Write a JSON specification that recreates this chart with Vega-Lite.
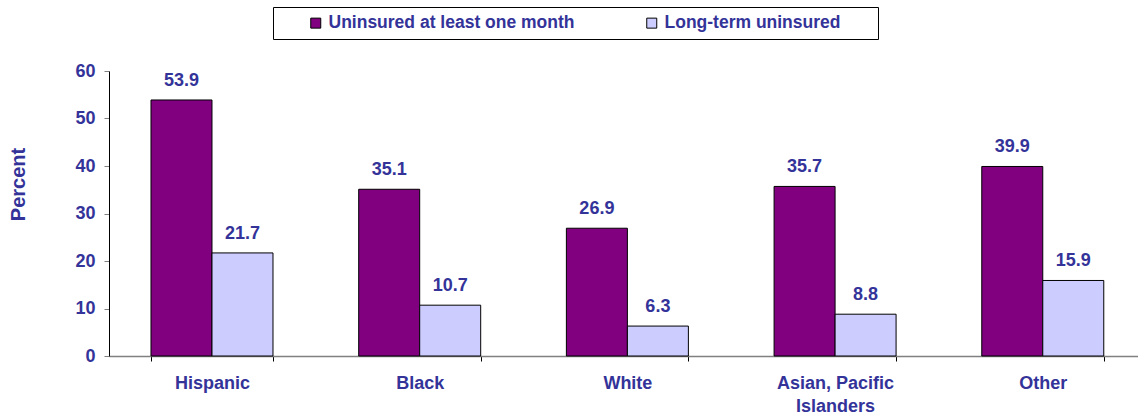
{
  "$schema": "https://vega.github.io/schema/vega-lite/v6.json",
  "autosize": "none",
  "width": 1029,
  "height": 285,
  "padding": {"left": 109, "top": 71, "right": 0, "bottom": 61},
  "background": "white",
  "config": {
    "font": "Liberation Sans",
    "view": {"stroke": null}
  },
  "data": {
    "values": [
      {"group": "Hispanic", "series": "Uninsured at least one month", "value": 53.9},
      {"group": "Hispanic", "series": "Long-term uninsured", "value": 21.7},
      {"group": "Black", "series": "Uninsured at least one month", "value": 35.1},
      {"group": "Black", "series": "Long-term uninsured", "value": 10.7},
      {"group": "White", "series": "Uninsured at least one month", "value": 26.9},
      {"group": "White", "series": "Long-term uninsured", "value": 6.3},
      {"group": "Asian, Pacific Islanders", "series": "Uninsured at least one month", "value": 35.7},
      {"group": "Asian, Pacific Islanders", "series": "Long-term uninsured", "value": 8.8},
      {"group": "Other", "series": "Uninsured at least one month", "value": 39.9},
      {"group": "Other", "series": "Long-term uninsured", "value": 15.9}
    ]
  },
  "encoding": {
    "x": {
      "field": "group",
      "type": "nominal",
      "sort": null,
      "scale": {"paddingInner": 0.4126, "paddingOuter": 0.1835, "align": 0.551},
      "axis": {
        "title": null,
        "labelAngle": 0,
        "labelFont": "Liberation Sans",
        "labelFontWeight": "bold",
        "labelFontSize": 18,
        "labelColor": "#333399",
        "labelPadding": 13,
        "labelLimit": 300,
        "labelExpr": "datum.label == 'Asian, Pacific Islanders' ? ['Asian, Pacific', 'Islanders'] : datum.label",
        "labelLineHeight": 23,
        "domainColor": "#808080",
        "domainWidth": 1.5,
        "tickColor": "#000000",
        "tickSize": 5,
        "tickBand": "extent"
      }
    },
    "xOffset": {
      "field": "series",
      "type": "nominal",
      "sort": ["Uninsured at least one month", "Long-term uninsured"],
      "scale": {"paddingInner": 0, "paddingOuter": 0}
    },
    "y": {
      "field": "value",
      "type": "quantitative",
      "scale": {"domain": [0, 60], "nice": false},
      "axis": {
        "title": "Percent",
        "titleFont": "Liberation Sans",
        "titleFontWeight": "bold",
        "titleFontSize": 20,
        "titleColor": "#333399",
        "titleX": -91,
        "titleY": 113,
        "titleAngle": -90,
        "titleAlign": "center",
        "titleBaseline": "middle",
        "values": [0, 10, 20, 30, 40, 50, 60],
        "grid": false,
        "labelFont": "Liberation Sans",
        "labelFontWeight": "bold",
        "labelFontSize": 18,
        "labelColor": "#333399",
        "labelPadding": 9,
        "domainColor": "#000000",
        "tickColor": "#808080",
        "tickSize": 5
      }
    }
  },
  "layer": [
    {
      "mark": {"type": "bar", "stroke": "#000000", "strokeWidth": 1},
      "encoding": {
        "color": {
          "field": "series",
          "type": "nominal",
          "sort": ["Uninsured at least one month", "Long-term uninsured"],
          "scale": {"domain": ["Uninsured at least one month", "Long-term uninsured"], "range": ["#800080", "#CCCCFF"]},
          "legend": {
            "title": " ",
            "titleOrient": "right",
            "titleFontSize": 8,
            "titlePadding": 31,
            "orient": "none",
            "legendX": 164,
            "legendY": -64,
            "direction": "horizontal",
            "strokeColor": "#000000",
            "fillColor": "#ffffff",
            "padding": 7,
            "symbolType": "square",
            "symbolSize": 100,
            "symbolStrokeColor": "#000000",
            "symbolStrokeWidth": 1,
            "symbolOffset": 27,
            "labelFont": "Liberation Sans",
            "labelFontWeight": "bold",
            "labelFontSize": 17.5,
            "labelColor": "#333399",
            "labelLimit": 400,
            "labelOffset": 4,
            "columnPadding": 41
          }
        }
      }
    },
    {
      "mark": {"type": "text", "baseline": "alphabetic", "dy": -14, "fontWeight": "bold", "fontSize": 18, "color": "#333399", "font": "Liberation Sans"},
      "encoding": {
        "text": {"field": "value", "type": "quantitative", "format": ".1f"}
      }
    }
  ]
}
